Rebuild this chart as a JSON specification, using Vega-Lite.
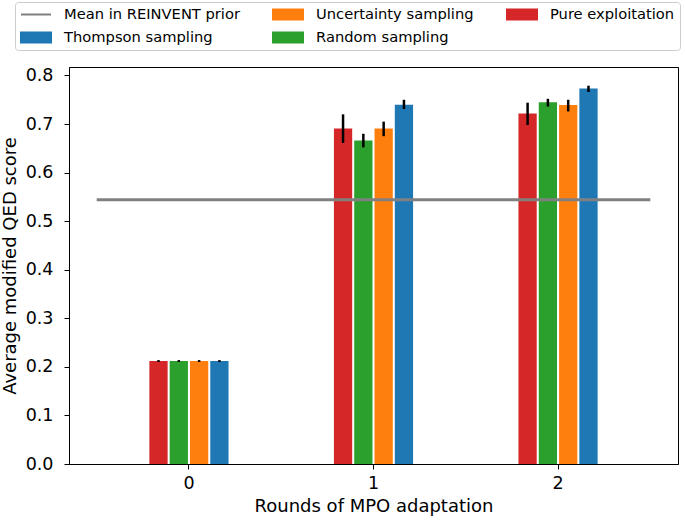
{
  "$schema": "https://vega.github.io/schema/vega-lite/v6.json",
  "width": 609,
  "height": 397,
  "autosize": {"type": "none"},
  "padding": {"left": 69, "top": 67, "right": 7, "bottom": 58},
  "background": "white",
  "config": {
    "font": "DejaVu Sans",
    "view": {"stroke": "black", "strokeWidth": 1},
    "axis": {
      "domainColor": "black", "tickColor": "black", "labelColor": "black", "titleColor": "black",
      "grid": false, "labelFont": "DejaVu Sans", "titleFont": "DejaVu Sans", "titleFontWeight": "normal",
      "labelFontSize": 17.5, "titleFontSize": 18, "tickSize": 5, "domainWidth": 1, "tickWidth": 1
    }
  },
  "layer": [
    {
      "data": {"values": [
        {"round": "0", "method": "Pure exploitation", "value": 0.212, "lo": 0.210, "hi": 0.214},
        {"round": "0", "method": "Random sampling", "value": 0.212, "lo": 0.210, "hi": 0.214},
        {"round": "0", "method": "Uncertainty sampling", "value": 0.212, "lo": 0.210, "hi": 0.214},
        {"round": "0", "method": "Thompson sampling", "value": 0.212, "lo": 0.210, "hi": 0.214},
        {"round": "1", "method": "Pure exploitation", "value": 0.691, "lo": 0.661, "hi": 0.720},
        {"round": "1", "method": "Random sampling", "value": 0.666, "lo": 0.652, "hi": 0.680},
        {"round": "1", "method": "Uncertainty sampling", "value": 0.691, "lo": 0.675, "hi": 0.705},
        {"round": "1", "method": "Thompson sampling", "value": 0.740, "lo": 0.731, "hi": 0.750},
        {"round": "2", "method": "Pure exploitation", "value": 0.722, "lo": 0.698, "hi": 0.744},
        {"round": "2", "method": "Random sampling", "value": 0.745, "lo": 0.736, "hi": 0.752},
        {"round": "2", "method": "Uncertainty sampling", "value": 0.739, "lo": 0.726, "hi": 0.750},
        {"round": "2", "method": "Thompson sampling", "value": 0.773, "lo": 0.766, "hi": 0.779}
      ]},
      "encoding": {
        "x": {
          "field": "round", "type": "nominal",
          "scale": {"paddingInner": 0.56, "paddingOuter": 0.43},
          "axis": {"title": "Rounds of MPO adaptation", "labelAngle": 0, "labelPadding": 5, "titlePadding": 6, "zindex": 1}
        },
        "xOffset": {
          "field": "method", "type": "nominal",
          "scale": {"domain": ["Pure exploitation", "Random sampling", "Uncertainty sampling", "Thompson sampling"], "paddingInner": 0.1, "paddingOuter": 0.05}
        }
      },
      "layer": [
        {
          "mark": {"type": "bar"},
          "encoding": {
            "y": {
              "field": "value", "type": "quantitative",
              "scale": {"domain": [0, 0.8175], "nice": false},
              "axis": {"title": "Average modified QED score", "values": [0, 0.1, 0.2, 0.3, 0.4, 0.5, 0.6, 0.7, 0.8], "format": ".1f", "labelPadding": 11, "titlePadding": 6, "zindex": 1}
            },
            "color": {
              "field": "method", "type": "nominal",
              "scale": {
                "domain": ["Mean in REINVENT prior", "Thompson sampling", "Uncertainty sampling", "Random sampling", "Pure exploitation"],
                "range": ["#808080", "#1f77b4", "#ff7f0e", "#2ca02c", "#d62728"]
              },
              "legend": {
                "orient": "none", "legendX": -54, "legendY": -65, "columns": 3, "title": null,
                "labelFont": "DejaVu Sans", "labelFontSize": 14.7, "labelColor": "black",
                "symbolSize": 900, "symbolStrokeWidth": 2, "labelOffset": 12,
                "clipHeight": 15, "rowPadding": 7, "columnPadding": 32, "padding": 5,
                "strokeColor": "#cccccc", "fillColor": "white", "cornerRadius": 3, "labelLimit": 400,
                "symbolType": "M-1,-0.333L1,-0.333L1,0.333L-1,0.333Z",
                "encoding": {"symbols": {
                  "shape": {"value": {"expr": "datum.value === 'Mean in REINVENT prior' ? 'M-1,0L1,0' : 'M-1,-0.333L1,-0.333L1,0.333L-1,0.333Z'"}},
                  "fill": {"value": {"expr": "datum.value === 'Mean in REINVENT prior' ? 'transparent' : scale('color', datum.value)"}},
                  "stroke": {"value": {"expr": "datum.value === 'Mean in REINVENT prior' ? '#808080' : 'transparent'"}},
                  "strokeWidth": {"value": 2},
                  "opacity": {"value": 1}
                }}
              }
            }
          }
        },
        {
          "mark": {"type": "rule", "color": "black", "strokeWidth": 2.5},
          "encoding": {
            "y": {"field": "lo", "type": "quantitative"},
            "y2": {"field": "hi"}
          }
        }
      ]
    },
    {
      "data": {"values": [{"label": "Mean in REINVENT prior", "start": -0.5, "end": 2.5, "mean": 0.544}]},
      "mark": {"type": "rule", "strokeWidth": 3},
      "encoding": {
        "x": {"field": "start", "type": "quantitative", "scale": {"domain": [-0.65, 2.65], "nice": false, "zero": false}, "axis": null},
        "x2": {"field": "end"},
        "y": {"field": "mean", "type": "quantitative"},
        "color": {"field": "label", "type": "nominal"}
      }
    }
  ],
  "resolve": {"scale": {"x": "independent"}, "axis": {"x": "independent"}}
}
